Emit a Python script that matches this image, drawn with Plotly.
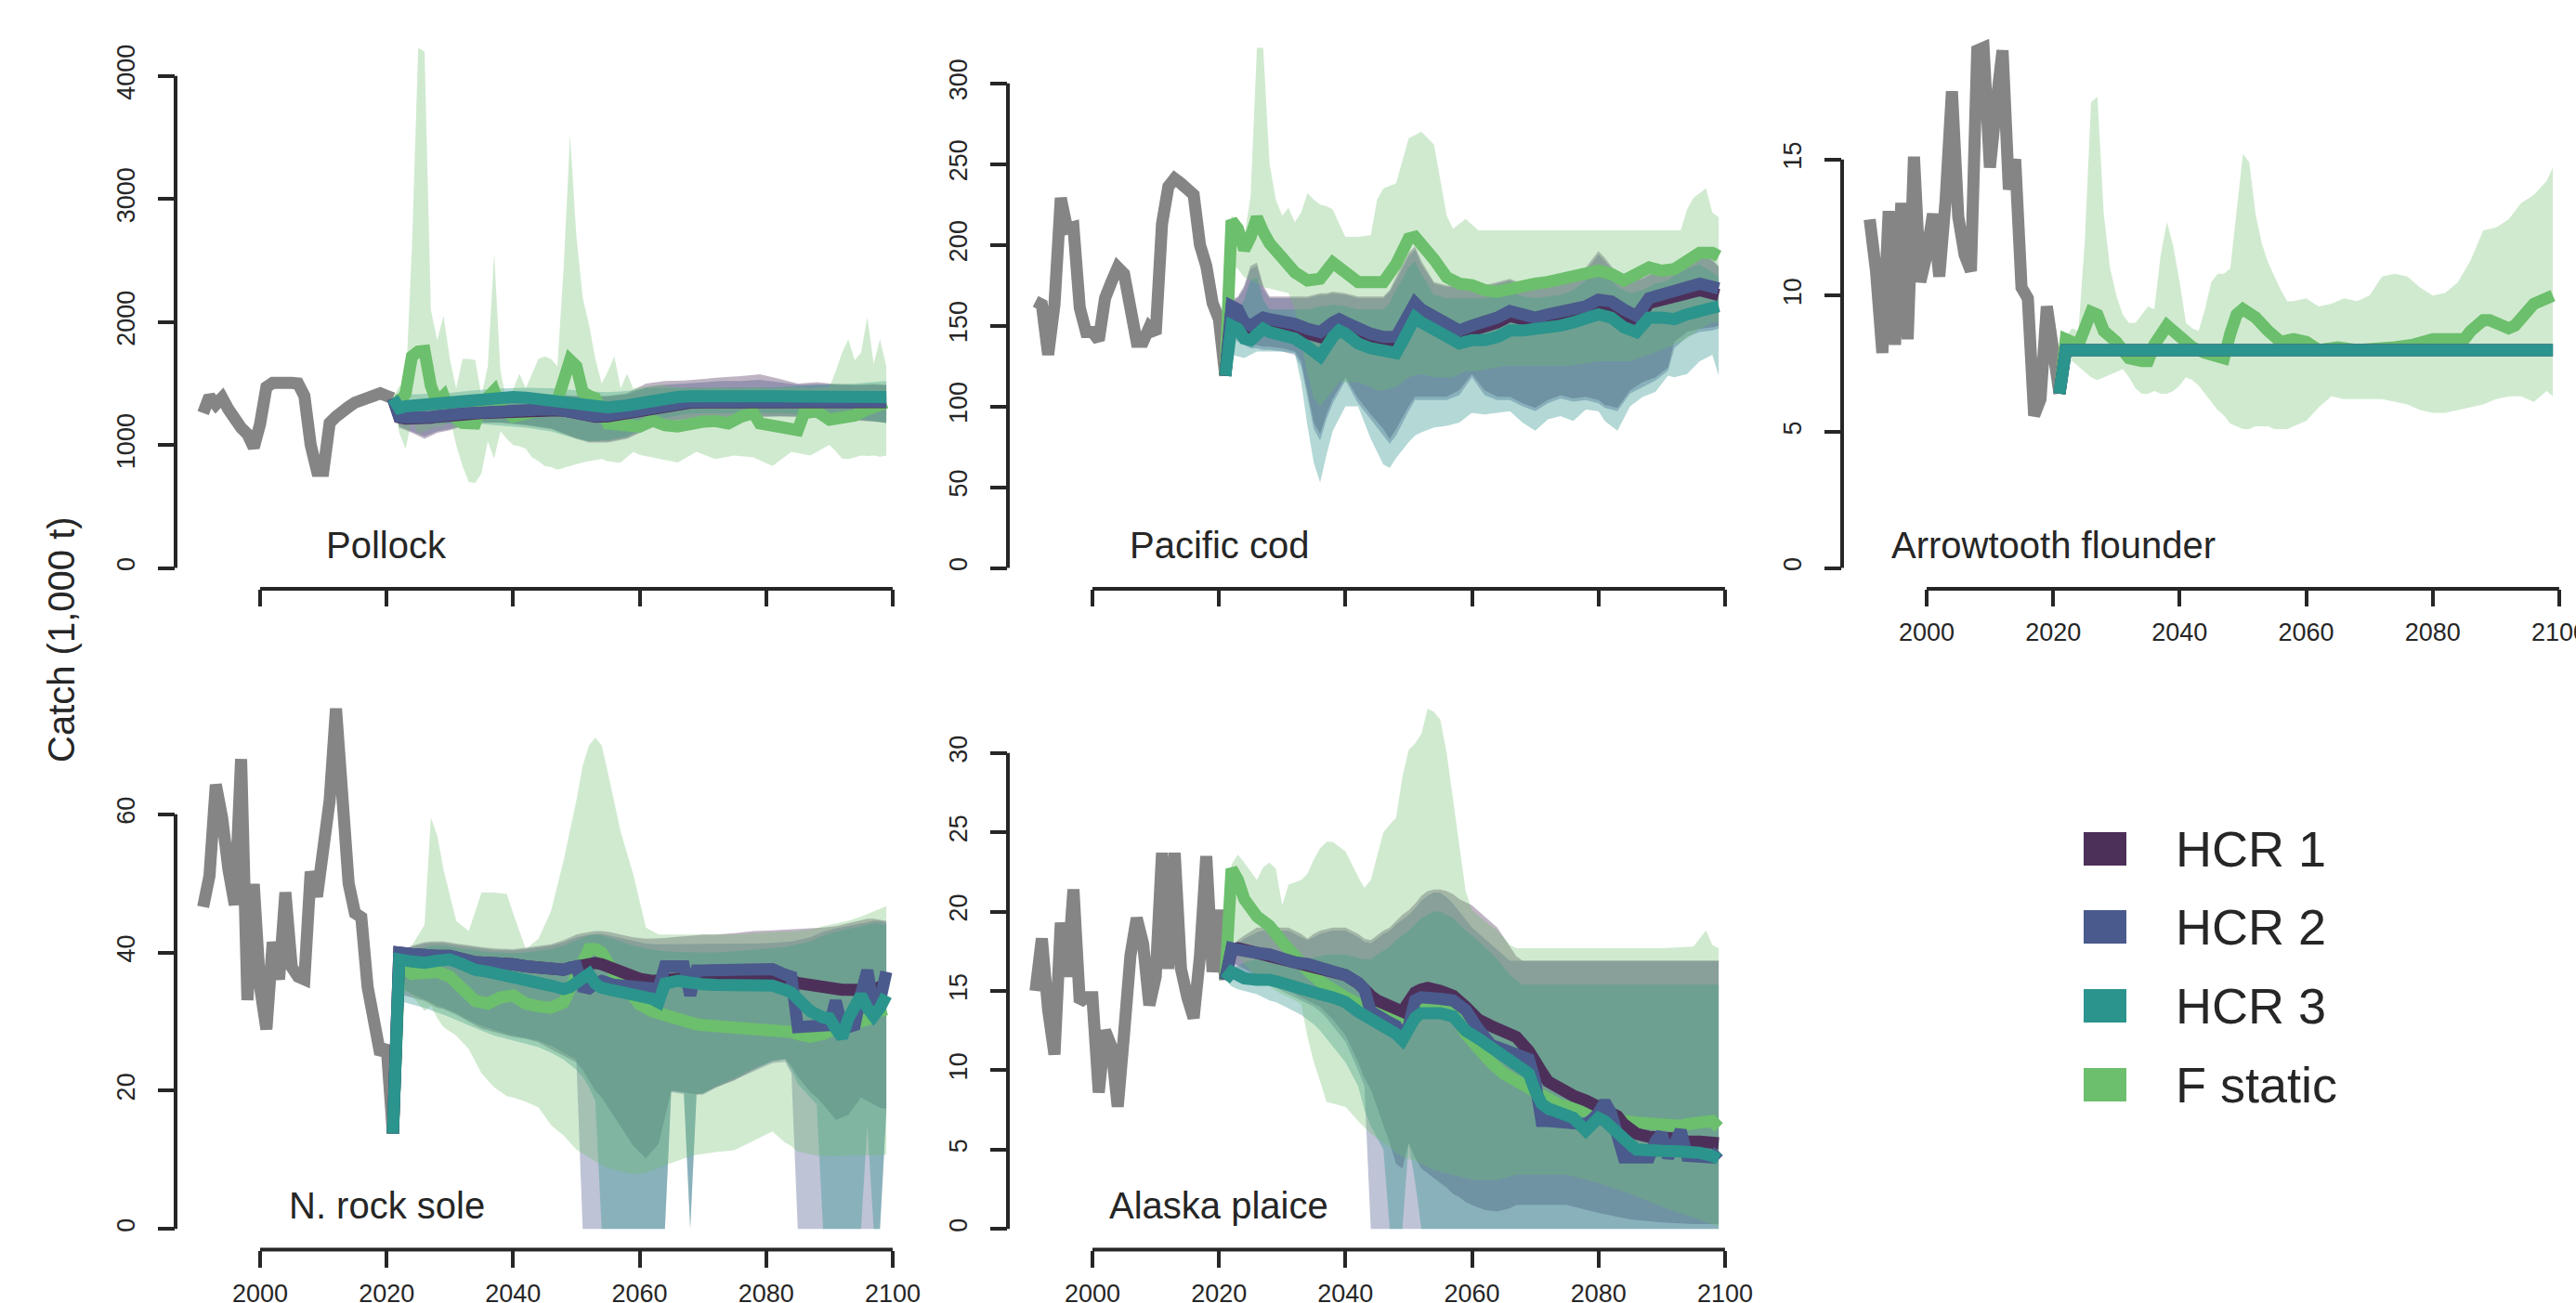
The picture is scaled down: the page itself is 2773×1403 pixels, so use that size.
import plotly.graph_objects as go

# ------------------------------------------------------------------ DATA
HIST_YEARS = [1991, 1992, 1993, 1994, 1995, 1996, 1997, 1998, 1999, 2000, 2001, 2002, 2003, 2004, 2005, 2006,
              2007, 2008, 2009, 2010, 2011, 2012, 2013, 2014, 2015, 2016, 2017, 2018, 2019, 2020, 2021]
X_TICKS = [2000, 2020, 2040, 2060, 2080, 2100]
SCENARIOS = ["HCR 1", "HCR 2", "HCR 3", "F static"]
SCEN_COLORS = ["#4D305A", "#4A5A8C", "#2B948C", "#6CBF6C"]
HIST_COLOR = "#858585"

# ---- Pollock
PK_YTICKS = [0, 1000, 2000, 3000, 4000]
PK_HIST = [1260, 1395, 1330, 1385, 1290, 1200, 1140, 1090, 980, 1170, 1470, 1505, 1510, 1510, 1505, 1500,
           1400, 1000, 790, 790, 1180, 1230, 1280, 1310, 1345, 1360, 1375, 1390, 1420, 1400, 1380]
PK_LINE_YEARS = [2021, 2022, 2023, 2024, 2025, 2026, 2027, 2028, 2029, 2030, 2032, 2034, 2035, 2037, 2038, 2040,
                 2042, 2045, 2047, 2048, 2049, 2050, 2051, 2052, 2053, 2055, 2058, 2060, 2062, 2064, 2066, 2068,
                 2070, 2072, 2074, 2076, 2078, 2079, 2081, 2083, 2085, 2086, 2088, 2090, 2092, 2094, 2096, 2098, 2099]
PK_HCR1 = [1380, 1225, 1215, 1212, 1212, 1215, 1222, 1230, 1238, 1244, 1250, 1256, 1260, 1266, 1272, 1284,
           1286, 1284, 1282, 1279, 1270, 1256, 1244, 1234, 1229, 1234, 1259, 1284, 1312, 1329, 1339, 1344,
           1346, 1346, 1347, 1347, 1347, 1347, 1347, 1347, 1347, 1347, 1347, 1348, 1348, 1349, 1349, 1349, 1349]
PK_HCR2 = [1380, 1230, 1222, 1218, 1218, 1220, 1228, 1236, 1245, 1250, 1256, 1262, 1266, 1272, 1278, 1290,
           1292, 1290, 1288, 1285, 1275, 1262, 1250, 1240, 1235, 1240, 1265, 1290, 1318, 1335, 1345, 1350,
           1352, 1352, 1353, 1353, 1353, 1353, 1353, 1353, 1353, 1353, 1353, 1354, 1354, 1355, 1355, 1355, 1355]
PK_HCR3 = [1380, 1300, 1315, 1320, 1318, 1318, 1322, 1326, 1333, 1340, 1355, 1372, 1378, 1383, 1386, 1390,
           1385, 1365, 1350, 1345, 1335, 1325, 1310, 1305, 1302, 1305, 1322, 1345, 1368, 1382, 1390, 1395,
           1398, 1400, 1400, 1400, 1400, 1400, 1398, 1396, 1394, 1393, 1392, 1390, 1390, 1390, 1390, 1390, 1390]
PK_FSTATIC = [1380, 1340, 1420, 1720, 1760, 1765, 1480, 1350, 1400, 1260, 1180, 1175, 1330, 1440, 1300, 1230,
              1255, 1290, 1360, 1500, 1690, 1640, 1430, 1400, 1380, 1175, 1170, 1150, 1200, 1160, 1150, 1175,
              1190, 1195, 1175, 1230, 1260, 1175, 1160, 1140, 1120, 1260, 1275, 1205, 1215, 1240, 1290, 1320, 1345]
PK_FS_BAND_YEARS = [2021, 2022, 2023, 2024, 2025, 2026, 2027, 2028, 2029, 2030, 2031, 2032, 2033, 2034, 2035,
                    2036, 2037, 2038, 2039, 2040, 2041, 2042, 2043, 2044, 2045, 2046, 2047, 2048, 2049, 2050,
                    2051, 2052, 2053, 2054, 2055, 2056, 2057, 2058, 2059, 2060, 2063, 2066, 2069, 2072, 2075,
                    2078, 2081, 2084, 2087, 2090, 2091, 2092, 2093, 2094, 2095, 2096, 2097, 2098, 2099]
PK_FS_HI = [1380, 1480, 1450, 2600, 4230, 4200, 2100, 1850, 2050, 1700, 1460, 1700, 1700, 1690, 1400,
            1640, 2560, 1600, 1350, 1450, 1580, 1460, 1580, 1700, 1720, 1700, 1640, 2450, 3520, 2700,
            2200, 1980, 1700, 1500, 1600, 1720, 1460, 1580, 1460, 1470, 1490, 1470, 1460, 1470, 1460,
            1470, 1460, 1470, 1460, 1470, 1600, 1750, 1860, 1690, 1750, 2040, 1660, 1860, 1640]
PK_FS_LO = [1380, 1100, 970, 1200, 1090, 1110, 1130, 1150, 1145, 1230, 1000, 830, 700, 690, 770,
            1030, 890, 1110, 1050, 1000, 990, 970, 900, 870, 830, 820, 800, 815, 830, 845,
            857, 870, 880, 886, 870, 860, 857, 900, 944, 920, 890, 857, 944, 886, 915,
            900, 829, 944, 915, 1001, 950, 890, 886, 900, 915, 910, 915, 905, 915]
PK_BAND_YEARS = [2021, 2022, 2024, 2026, 2028, 2030, 2034, 2038, 2042, 2046, 2050, 2052, 2055, 2058,
                 2061, 2064, 2067, 2070, 2073, 2076, 2079, 2082, 2085, 2088, 2091, 2094, 2097, 2099]
PK_HCR1_HI = [1380, 1330, 1320, 1330, 1345, 1360, 1390, 1410, 1415, 1410, 1400, 1395, 1400, 1420,
              1500, 1520, 1525, 1540, 1550, 1560, 1575, 1540, 1500, 1510, 1495, 1490, 1495, 1490]
PK_HCR1_LO = [1380, 1140, 1100, 1050, 1100, 1120, 1180, 1180, 1160, 1130, 1050, 1020, 1020, 1050,
              1120, 1180, 1200, 1205, 1210, 1220, 1230, 1232, 1230, 1220, 1210, 1200, 1190, 1180]
PK_HCR2_HI = [1380, 1320, 1310, 1325, 1340, 1355, 1385, 1405, 1410, 1405, 1395, 1390, 1395, 1410,
              1470, 1490, 1500, 1510, 1520, 1520, 1530, 1510, 1490, 1495, 1490, 1485, 1490, 1485]
PK_HCR2_LO = [1380, 1150, 1110, 1070, 1110, 1130, 1185, 1185, 1165, 1135, 1060, 1030, 1030, 1060,
              1130, 1190, 1210, 1215, 1220, 1225, 1232, 1235, 1232, 1225, 1215, 1205, 1195, 1185]
PK_HCR3_HI = [1380, 1400, 1410, 1415, 1420, 1425, 1445, 1460, 1465, 1462, 1445, 1435, 1430, 1440,
              1460, 1465, 1465, 1465, 1465, 1465, 1465, 1470, 1480, 1490, 1495, 1500, 1515, 1520]
PK_HCR3_LO = [1380, 1180, 1170, 1170, 1175, 1175, 1175, 1160, 1140, 1110, 1050, 1030, 1040, 1070,
              1150, 1220, 1250, 1260, 1260, 1260, 1260, 1258, 1250, 1240, 1230, 1215, 1195, 1175]

# ---- Pacific cod
CD_YTICKS = [0, 50, 100, 150, 200, 250, 300]
CD_HIST = [165, 163, 132, 163, 229, 210, 211, 161, 146, 146, 141, 167, 177, 186, 182, 161,
           140, 140, 149, 145, 213, 236, 241, 238, 233, 231, 200, 187, 164, 154, 119]
CD_LINE_YEARS = [2021, 2022, 2023, 2024, 2025, 2026, 2027, 2028, 2030, 2032, 2034, 2036, 2038, 2039, 2040,
                 2042, 2044, 2046, 2048, 2049, 2050, 2051, 2052, 2054, 2056, 2058, 2060, 2062, 2064, 2066,
                 2068, 2070, 2072, 2074, 2076, 2078, 2080, 2082, 2084, 2086, 2088, 2090, 2092, 2094, 2096,
                 2098, 2099]
CD_HCR1 = [119, 160, 158, 150, 148, 151, 153, 152, 150, 148, 145, 143, 149, 151, 149, 145, 142, 140, 140, 147,
           155, 161, 157, 152, 147, 144, 147, 149, 152, 156, 153, 152, 154, 156, 157, 159, 163, 162, 157, 153,
           164, 166, 168, 170, 172, 170, 169]
CD_HCR2 = [119, 162, 160, 152, 150, 153, 155, 154, 153, 151, 148, 146, 152, 154, 152, 148, 145, 143, 143, 150,
           158, 164, 160, 155, 150, 147, 150, 152, 155, 159, 156, 155, 157, 159, 160, 162, 166, 165, 160, 156,
           167, 169, 171, 173, 176, 174, 173]
CD_HCR3 = [119, 150, 148, 142, 141, 145, 148, 146, 143, 142, 137, 131, 143, 147, 145, 139, 136, 134, 133, 140,
           150, 155, 152, 148, 143, 139, 141, 141, 143, 147, 147, 148, 148, 150, 152, 154, 157, 155, 149, 146,
           155, 155, 154, 157, 160, 161, 162]
CD_FSTATIC = [119, 215, 210, 197, 205, 217, 208, 201, 192, 183, 178, 179, 189, 186, 181, 177, 177, 177, 188, 197,
              204, 205, 201, 191, 180, 176, 175, 172, 171, 173, 174, 176, 177, 179, 181, 183, 184, 182, 178, 182,
              186, 184, 185, 190, 195, 195, 193]
CD_FS_BAND_YEARS = [2021, 2022, 2023, 2024, 2025, 2026, 2027, 2028, 2029, 2030, 2031, 2032, 2033, 2034, 2035,
                    2036, 2037, 2038, 2039, 2040, 2042, 2044, 2045, 2046, 2048, 2050, 2052, 2054, 2055, 2056,
                    2057, 2058, 2059, 2061, 2065, 2070, 2075, 2080, 2085, 2090, 2093, 2094, 2095, 2096, 2097,
                    2098, 2099]
CD_FS_HI = [119, 218, 215, 205, 230, 322, 322, 250, 228, 218, 223, 214, 220, 232, 228, 225, 224, 222, 213, 205,
            205, 206, 228, 235, 238, 266, 270, 262, 240, 218, 210, 213, 216, 209, 209, 209, 209, 209, 209, 209,
            209, 222, 229, 232, 235, 220, 217]
CD_FS_LO = [119, 188, 185, 180, 178, 176, 174, 173, 172, 171, 170, 160, 140, 120, 105, 100, 105, 110, 115, 115,
            115, 112, 110, 110, 112, 118, 120, 118, 118, 118, 118, 120, 122, 122, 125, 125, 125, 128, 128, 135,
            140, 142, 145, 148, 150, 152, 152]
CD_BAND_YEARS = [2021, 2022, 2023, 2024, 2025, 2026, 2027, 2028, 2030, 2032, 2033, 2034, 2035, 2036, 2037, 2038,
                 2040, 2042, 2044, 2046, 2047, 2048, 2050, 2051, 2052, 2054, 2056, 2058, 2060, 2062, 2064, 2066,
                 2068, 2070, 2072, 2074, 2076, 2078, 2080, 2081, 2083, 2085, 2087, 2089, 2091, 2092, 2094, 2096,
                 2098, 2099]
CD_HCR1_HI = [119, 166, 168, 175, 187, 189, 175, 168, 168, 168, 168, 168, 169, 170, 170, 171, 170, 168, 168, 168,
              172, 180, 195, 199, 190, 177, 175, 175, 175, 175, 177, 179, 176, 175, 176, 177, 180, 186, 196, 192,
              182, 178, 180, 184, 186, 189, 193, 196, 191, 187]
CD_HCR1_LO = [119, 145, 142, 140, 138, 138, 137, 137, 136, 134, 128, 110, 90, 83, 95, 105, 118, 105, 95, 86,
              80, 86, 100, 106, 106, 106, 106, 110, 120, 110, 106, 106, 102, 99, 104, 107, 105, 106, 104, 101,
              99, 110, 115, 118, 124, 140, 146, 148, 149, 150]
CD_HCR2_HI = [119, 165, 167, 173, 185, 187, 173, 167, 167, 167, 167, 167, 168, 169, 169, 170, 169, 167, 167, 167,
              171, 178, 193, 197, 188, 176, 174, 174, 174, 174, 176, 178, 175, 174, 175, 176, 179, 184, 194, 190,
              181, 177, 179, 183, 185, 188, 192, 195, 190, 186]
CD_HCR2_LO = [119, 143, 140, 138, 136, 136, 135, 135, 134, 132, 125, 105, 86, 79, 92, 102, 116, 102, 92, 82,
              77, 82, 97, 104, 104, 104, 104, 107, 118, 107, 104, 104, 100, 97, 102, 105, 103, 104, 102, 99,
              97, 108, 112, 116, 122, 136, 143, 146, 147, 148]
CD_HCR3_HI = [119, 158, 160, 166, 178, 180, 166, 160, 160, 160, 160, 160, 161, 162, 162, 163, 162, 160, 160, 160,
              164, 172, 186, 190, 182, 169, 167, 167, 167, 167, 169, 171, 168, 167, 168, 169, 172, 178, 188, 184,
              174, 170, 172, 176, 178, 181, 185, 188, 183, 180]
CD_HCR3_LO = [119, 132, 131, 130, 132, 134, 134, 134, 134, 133, 115, 88, 65, 53, 70, 85, 100, 100, 80, 64,
              62, 68, 78, 82, 84, 87, 88, 90, 96, 95, 96, 97, 90, 85, 92, 94, 91, 98, 97, 91,
              85, 100, 106, 109, 119, 118, 120, 128, 132, 119]

# ---- Arrowtooth flounder
AT_YTICKS = [0, 5, 10, 15]
AT_HIST = [12.8, 10.9, 7.9, 13.1, 8.2, 13.4, 8.4, 15.1, 10.5, 11.5, 13.0, 10.7, 13.5, 17.5, 12.9, 11.5,
           10.9, 19.0, 19.1, 14.7, 17.0, 19.0, 13.9, 15.0, 10.3, 9.9, 5.6, 6.2, 9.6, 8.2, 6.4]
AT_HCR_YEARS = [2021, 2022, 2030, 2040, 2050, 2060, 2070, 2080, 2090, 2099]
AT_HCR1 = [6.4, 8.0, 8.0, 8.0, 8.0, 8.0, 8.0, 8.0, 8.0, 8.0]
AT_HCR2 = [6.4, 8.0, 8.0, 8.0, 8.0, 8.0, 8.0, 8.0, 8.0, 8.0]
AT_HCR3 = [6.4, 8.0, 8.0, 8.0, 8.0, 8.0, 8.0, 8.0, 8.0, 8.0]
AT_FS_YEARS = [2021, 2022, 2023, 2024, 2025, 2026, 2027, 2028, 2030, 2032, 2034, 2035, 2036, 2037, 2038, 2039,
               2040, 2042, 2044, 2046, 2047, 2048, 2049, 2050, 2051, 2052, 2054, 2056, 2058, 2060, 2062, 2065,
               2068, 2071, 2074, 2077, 2080, 2083, 2085, 2086, 2087, 2088, 2089, 2090, 2091, 2092, 2093, 2094,
               2095, 2096, 2097, 2098, 2099]
AT_FSTATIC = [6.4, 8.4, 8.3, 8.2, 8.8, 9.4, 9.3, 8.7, 8.3, 7.7, 7.6, 7.6, 8.2, 8.6, 8.9, 8.7,
              8.5, 8.1, 7.9, 7.8, 7.7, 8.6, 9.3, 9.5, 9.4, 9.2, 8.7, 8.3, 8.4, 8.3, 8.0, 8.1,
              8.0, 8.0, 8.1, 8.2, 8.4, 8.4, 8.4, 8.7, 8.9, 9.1, 9.1, 9.0, 8.9, 8.8, 8.9, 9.2,
              9.5, 9.7, 9.8, 9.9, 10.0]
AT_FS_BAND_YEARS = [2021, 2022, 2023, 2024, 2025, 2026, 2027, 2028, 2029, 2030, 2031, 2032, 2033, 2034, 2035,
                    2036, 2037, 2038, 2039, 2040, 2041, 2042, 2043, 2044, 2045, 2046, 2047, 2048, 2049, 2050,
                    2051, 2052, 2053, 2054, 2055, 2056, 2057, 2058, 2060, 2062, 2064, 2066, 2068, 2070, 2072,
                    2074, 2076, 2078, 2080, 2082, 2084, 2086, 2088, 2090, 2092, 2094, 2096, 2098, 2099]
AT_FS_HI = [6.4, 8.5, 8.8, 8.7, 12.0, 17.1, 17.3, 13.0, 11.0, 10.0, 9.3, 9.0, 9.0, 9.3, 9.6,
            9.5, 11.5, 12.7, 11.8, 10.5, 9.0, 8.8, 8.7, 9.5, 10.5, 10.8, 10.8, 11.0, 13.0, 15.2,
            14.9, 13.0, 11.9, 11.2, 10.7, 10.2, 9.8, 9.8, 9.9, 9.6, 9.7, 9.9, 9.8, 10.0, 10.7,
            10.8, 10.7, 10.3, 10.0, 10.1, 10.5, 11.3, 12.4, 12.5, 12.8, 13.4, 13.7, 14.2, 14.7]
AT_FS_LO = [6.4, 7.5, 7.6, 7.4, 7.2, 7.0, 6.9, 7.0, 7.1, 7.2, 7.3, 7.0, 6.6, 6.4, 6.4,
            6.5, 6.4, 6.4, 6.5, 6.7, 7.0, 6.9, 6.7, 6.4, 6.1, 5.8, 5.6, 5.3, 5.2, 5.1,
            5.1, 5.2, 5.2, 5.2, 5.1, 5.1, 5.1, 5.2, 5.4, 5.9, 6.3, 6.2, 6.2, 6.2, 6.2,
            6.1, 6.0, 5.8, 5.7, 5.7, 5.8, 5.9, 6.0, 6.2, 6.3, 6.3, 6.1, 6.5, 6.3]

# ---- N. rock sole
RS_YTICKS = [0, 20, 40, 60]
RS_HIST = [46.6, 51.1, 64.3, 59.5, 52, 46.9, 68, 33.1, 49.9, 35, 28.9, 41.5, 36.1, 48.7, 37.9, 36.5,
           36.1, 51.7, 48.1, 54.7, 62, 75.3, 59.5, 50, 45.7, 45.1, 35, 29.5, 25.3, 26.5, 13.8]
RS_LINE_YEARS = [2021, 2022, 2024, 2026, 2028, 2030, 2032, 2034, 2036, 2038, 2040, 2042, 2044, 2046, 2048,
                 2049, 2050, 2051, 2052, 2053, 2054, 2056, 2058, 2060, 2062, 2063, 2064, 2066, 2067, 2068,
                 2069, 2070, 2072, 2075, 2078, 2081, 2083, 2084, 2085, 2087, 2089, 2090, 2091, 2092, 2093,
                 2094, 2095, 2096, 2097, 2098, 2099]
RS_HCR1 = [13.8, 40, 39.8, 39.5, 39.5, 39.5, 39, 38.6, 38.5, 38.5, 38.3, 38, 37.7, 37.4, 37.5,
           37.8, 38, 38.3, 38.5, 38.5, 38.3, 37.5, 36.7, 36.2, 35.9, 35.9, 36, 36.2, 36.3, 36.4,
           36.5, 36.6, 36.6, 36.6, 36.5, 36.4, 36.2, 36, 35.6, 35.2, 35, 34.8, 34.7, 34.6, 34.6,
           34.5, 34.4, 34.4, 34.6, 35, 35.2]
RS_HCR2 = [13.8, 40, 39.8, 39.5, 39.5, 39.5, 39, 38.6, 38.5, 38.5, 38.3, 38, 37.7, 37.4, 37.5,
           37.8, 38, 35, 34.8, 35.5, 35.9, 35.3, 35, 34.9, 34.8, 34.8, 38, 38, 38, 33.8,
           37.4, 37.4, 37.4, 37.3, 37.4, 37.6, 36.8, 36.5, 29.2, 29.2, 29.2, 29.5, 33, 29.2, 29.2,
           29.5, 34, 37.4, 32, 33, 37.2]
RS_HCR3 = [13.8, 39, 38.7, 38.5, 38.8, 39, 38.3, 37.5, 37.2, 36.9, 36.5, 36, 35.6, 35.2, 34.7,
           35, 35.6, 36.5, 36.9, 35.5, 34.9, 34.5, 34.2, 33.8, 33.3, 32.8, 35.5, 35.9, 35.7, 35.5,
           35.4, 35.4, 35.3, 35.2, 35.4, 35.2, 34.6, 34.2, 33.3, 31.5, 30.6, 30.5, 29, 27.7, 30.5,
           32.5, 33.8, 32, 30.8, 32, 33.8]
RS_FSTATIC = [13.8, 38, 36.9, 36.9, 37.2, 36.5, 34.5, 33, 32.6, 33.5, 33.8, 32.6, 32.2, 32, 32.8,
              35, 37, 39, 40.5, 40.5, 40, 37, 34.5, 32.5, 31.5, 31.2, 30.8, 30.2, 30, 29.8,
              29.6, 29.5, 29.4, 29.3, 29.2, 29, 28.7, 28.5, 28.2, 27.8, 28.2, 28.7, 29, 29.2, 29.5,
              29.6, 29.7, 30.3, 31.3, 31.5, 31.8]
RS_BAND_YEARS = [2021, 2022, 2024, 2026, 2027, 2028, 2029, 2031, 2033, 2035, 2037, 2039, 2040, 2042, 2044,
                 2046, 2048, 2050, 2051, 2052, 2053, 2054, 2055, 2057, 2059, 2061, 2063, 2064, 2065, 2067,
                 2068, 2069, 2070, 2072, 2075, 2078, 2081, 2083, 2084, 2085, 2087, 2088, 2089, 2091, 2093,
                 2095, 2096, 2097, 2098, 2099]
RS_FS_HI = [13.8, 39, 41, 44, 59.5, 57, 52, 44.6, 43.1, 48.7, 48.7, 48.5, 45.7, 40.5, 42,
            46, 53.4, 62, 67, 70, 71.1, 70, 66, 57.5, 51.3, 43.6, 42.6, 42.6, 42.6, 42.6,
            42.6, 42.6, 42.6, 42.6, 42.6, 42.8, 43, 43.1, 43.1, 43.1, 43.3, 43.5, 43.8, 44.2, 44.6,
            45.2, 45.6, 46, 46.4, 46.7]
RS_FS_LO = [13.8, 35, 33.8, 31.5, 32.3, 30.5, 29.2, 28, 26, 22.5, 20.5, 19.2, 19, 18.4, 17.6,
            15, 13.5, 11.5, 11, 10.3, 9.8, 9.2, 8.8, 8.3, 7.9, 8.1, 8.8, 9.2, 9.5, 10.2,
            10.5, 10.7, 10.9, 11.1, 11.4, 12.8, 14.1, 12.5, 12, 11.2, 10.8, 10.6, 10.5, 10.5, 10.6,
            10.6, 10.7, 10.7, 10.7, 10.7]
RS_HCR1_HI = [13.8, 40, 41, 41.5, 41.6, 41.6, 41.6, 41.3, 41, 40.8, 40.6, 40.5, 40.5, 40.7, 40.9,
              41.2, 41.8, 42.6, 42.8, 43, 43.1, 43.1, 43, 42.6, 42.2, 42, 42, 42.1, 42.2, 42.3,
              42.4, 42.5, 42.6, 42.6, 42.8, 43.1, 43.2, 43.3, 43.3, 43.4, 43.5, 43.6, 43.6, 43.8, 44.2,
              44.6, 44.9, 44.9, 44.7, 44.6]
RS_HCR1_LO = [13.8, 34, 33.5, 33, 32.5, 32, 31.8, 31, 30, 29, 28.5, 28, 27.8, 27.5, 27,
              26, 25, 24.1, 23, 21.5, 20, 19, 17.5, 14.8, 12, 10.2, 12.3, 16, 20, 19.8,
              19.6, 19.5, 19.6, 20.5, 21.5, 23, 24.3, 24.6, 23.5, 22, 19.8, 19, 18, 15.8, 16.5,
              19, 18.5, 18, 17.5, 17.4]
RS_HCR2_HI = [13.8, 40, 40.8, 41.3, 41.4, 41.4, 41.4, 41.1, 40.8, 40.6, 40.4, 40.3, 40.3, 40.5, 40.7,
              41, 41.5, 42.2, 42.4, 42.6, 42.7, 42.7, 42.5, 42, 41.6, 41.3, 41.2, 41.2, 41.3, 41.3,
              41.3, 41.3, 41.3, 41.2, 41.2, 41.3, 41.4, 41.5, 41.6, 41.8, 42.2, 42.6, 43, 43.5, 43.8,
              44.2, 44.4, 44.6, 44.6, 44.4]
RS_HCR2_LO = [13.8, 35, 34, 33.2, 32.8, 32.3, 32, 31.2, 30.2, 29.4, 28.8, 28.2, 28, 27.6, 27.2,
              26.5, 25.5, 24.5, 0, 0, 0, 0, 0, 0, 0, 0, 0, 0, 19.8, 19.5,
              0, 19.4, 19.4, 20.4, 21.5, 22.8, 24, 24.2, 22.5, 0, 0, 0, 0, 0, 0,
              0, 0, 0, 0, 17]
RS_HCR3_HI = [13.8, 39.5, 40.2, 40.8, 41, 41, 41, 40.7, 40.4, 40.2, 40, 39.9, 39.9, 40, 40.2,
              40.5, 41, 41.8, 42.2, 42.5, 42.6, 42.5, 42.2, 41.6, 41, 40.6, 40.3, 40.2, 40.1, 40,
              40, 40, 40, 40, 40.2, 40.4, 40.6, 40.8, 41, 41.2, 41.6, 42, 42.4, 43, 43.4,
              43.8, 44, 44.2, 44.2, 44]
RS_HCR3_LO = [13.8, 33, 32.5, 32, 31.7, 31.3, 31, 30.3, 29.5, 28.7, 28, 27.5, 27.2, 26.8, 26.3,
              25.5, 24.5, 23, 22, 20.5, 18.5, 0, 0, 0, 0, 0, 0, 0, 20, 19.7,
              0, 19.5, 19.6, 20.6, 21.8, 23.2, 24.3, 24.6, 23, 21, 19, 18, 0, 0, 0,
              0, 15, 0, 0, 17]

# ---- Alaska plaice
PL_YTICKS = [0, 5, 10, 15, 20, 25, 30]
PL_HIST = [15, 18.3, 13.8, 11, 19.3, 15.9, 21.4, 14.3, 14.6, 14.6, 8.6, 12.5, 11.5, 7.7, 12.3, 17.2,
           19.6, 18, 14.1, 15.9, 23.7, 16.4, 23.7, 16.4, 14.6, 13.3, 17.2, 23.5, 16.2, 20.1, 15.7]
PL_LINE_YEARS = [2021, 2022, 2023, 2024, 2026, 2028, 2030, 2032, 2034, 2036, 2038, 2040, 2042, 2043, 2044,
                 2045, 2047, 2048, 2049, 2050, 2051, 2052, 2053, 2055, 2057, 2059, 2061, 2063, 2065, 2067,
                 2069, 2070, 2071, 2072, 2074, 2076, 2078, 2079, 2080, 2081, 2082, 2083, 2084, 2086, 2088,
                 2089, 2090, 2091, 2092, 2093, 2094, 2096, 2098, 2099]
PL_HCR1 = [15.7, 17.6, 17.7, 17.6, 17.4, 17.3, 17.0, 16.8, 16.7, 16.5, 16.3, 16.0, 15.5, 15.0, 14.7,
           14.4, 14.0, 13.8, 13.7, 14.3, 14.9, 15.1, 15.2, 15.0, 14.7, 14.0, 13.2, 12.8, 12.5, 12.1,
           11.2, 10.7, 9.9, 9.3, 8.8, 8.4, 8.1, 7.9, 7.8, 7.7, 7.5, 7.1, 6.6, 6.0, 5.8,
           5.8, 5.7, 5.7, 5.7, 5.6, 5.5, 5.5, 5.4, 5.4]
PL_HCR2 = [15.7, 17.7, 17.6, 17.5, 17.4, 17.3, 17.0, 16.8, 16.7, 16.5, 16.3, 16.0, 15.5, 15.1, 13.7,
           13.4, 13.0, 12.8, 12.1, 12.8, 14.4, 14.6, 14.6, 14.5, 14.4, 13.8, 12.6, 11.6, 11.3, 11.0,
           10.7, 9.3, 6.8, 6.8, 6.7, 6.6, 6.6, 6.9, 7.3, 8.0, 7.3, 5.9, 4.5, 4.5, 4.5,
           5.5, 6.0, 4.5, 5.5, 6.2, 4.6, 4.5, 4.5, 4.9]
PL_HCR3 = [15.7, 16.2, 16.0, 15.8, 15.7, 15.7, 15.5, 15.2, 15.0, 14.8, 14.6, 14.3, 13.7, 13.5, 13.3,
           13.1, 12.6, 12.3, 11.9, 12.6, 13.3, 13.6, 13.6, 13.6, 13.4, 12.5, 12.0, 11.5, 11.0, 10.5,
           9.8, 8.7, 7.9, 7.6, 7.3, 7.0, 6.2, 6.6, 7.0, 6.8, 6.5, 6.0, 5.7, 5.0, 4.9,
           4.9, 4.9, 4.9, 4.9, 4.9, 4.9, 4.8, 4.6, 4.4]
PL_FSTATIC = [15.7, 22.7, 22.0, 20.8, 19.7, 19.1, 18.1, 17.1, 16.3, 15.6, 15.0, 14.6, 14.2, 14.0, 13.8,
              13.6, 13.4, 13.3, 13.3, 13.6, 13.8, 13.9, 14.0, 14.2, 13.8, 12.3, 11.3, 10.5, 9.8, 9.3,
              8.9, 8.7, 8.4, 8.2, 7.8, 7.5, 7.4, 7.3, 7.3, 7.2, 7.0, 6.8, 6.8, 6.7, 6.6,
              6.6, 6.6, 6.5, 6.5, 6.5, 6.6, 6.7, 6.8, 6.4]
PL_BAND_YEARS = [2021, 2022, 2023, 2024, 2026, 2027, 2028, 2029, 2030, 2031, 2033, 2034, 2035, 2036, 2037,
                 2038, 2040, 2042, 2043, 2044, 2046, 2047, 2048, 2049, 2050, 2051, 2052, 2053, 2054, 2055,
                 2056, 2057, 2058, 2059, 2060, 2062, 2064, 2066, 2067, 2068, 2070, 2075, 2080, 2085, 2090,
                 2095, 2096, 2097, 2098, 2099]
PL_FS_HI = [15.7, 23.0, 23.6, 23.1, 22.0, 22.8, 23.1, 22.7, 20.4, 21.7, 22.0, 22.4, 23.3, 24.0, 24.4,
            24.4, 23.8, 22.2, 21.5, 22.0, 25.0, 25.5, 25.9, 28.5, 30.2, 30.6, 31.2, 32.8, 32.6, 32.1,
            30.0, 27.0, 24.0, 21.3, 20.1, 19.4, 18.8, 17.9, 17.7, 17.7, 17.7, 17.7, 17.7, 17.7, 17.7,
            17.8, 18.3, 18.8, 17.9, 17.7]
PL_FS_LO = [15.7, 17.8, 17.2, 16.7, 15.9, 15.6, 15.3, 15.0, 14.8, 14.6, 14.2, 12.1, 10.5, 9.3, 8.0,
            7.9, 7.7, 6.8, 6.4, 6.0, 5.4, 5.2, 4.8, 4.6, 4.4, 4.3, 4.1, 3.9, 3.7, 3.6,
            3.5, 3.4, 3.3, 3.2, 3.1, 3.1, 3.1, 3.3, 3.4, 3.4, 3.4, 3.4, 2.9, 2.2, 1.4,
            0.7, 0.6, 0.4, 0.3, 0.15]
PL_HCR1_HI = [15.7, 17.8, 18.2, 18.5, 19.0, 19.0, 19.0, 19.0, 19.0, 19.0, 18.6, 18.3, 18.6, 18.8, 18.9,
              19.0, 19.0, 18.6, 18.3, 18.2, 18.8, 19.0, 19.4, 19.8, 20.1, 20.5, 21.0, 21.3, 21.4, 21.4,
              21.3, 21.1, 20.8, 20.6, 20.4, 19.7, 19.0, 17.8, 17.2, 16.9, 16.9, 16.9, 16.9, 16.9, 16.9,
              16.9, 16.9, 16.9, 16.9, 16.9]
PL_HCR1_LO = [15.7, 16.8, 16.6, 16.4, 16.0, 15.8, 15.6, 15.4, 15.2, 15.0, 14.6, 14.4, 14.2, 14.0, 13.6,
              13.2, 12.2, 10.5, 9.5, 8.8, 6.5, 5.4, 4.1, 3.8, 5.4, 4.5, 3.8, 3.5, 3.2, 2.9,
              2.6, 2.2, 2.0, 1.7, 1.5, 1.2, 1.1, 1.3, 1.5, 1.5, 1.5, 1.5, 1.0, 0.6, 0.4,
              0.3, 0.3, 0.3, 0.3, 0.3]
PL_HCR2_HI = [15.7, 17.7, 18.0, 18.3, 18.7, 18.8, 18.8, 18.8, 18.8, 18.8, 18.4, 18.2, 18.4, 18.6, 18.7,
              18.8, 18.8, 18.4, 18.1, 18.0, 18.6, 18.8, 19.2, 19.5, 19.8, 20.2, 20.7, 21.0, 21.2, 21.2,
              20.9, 20.5, 20.0, 19.5, 19.0, 18.3, 17.6, 16.9, 16.9, 16.9, 16.9, 16.9, 16.9, 16.9, 16.9,
              16.9, 16.9, 16.9, 16.9, 16.9]
PL_HCR2_LO = [15.7, 16.6, 16.4, 16.2, 15.8, 15.6, 15.4, 15.2, 15.0, 14.8, 14.4, 14.2, 14.0, 13.7, 13.3,
              12.8, 11.8, 10.0, 9.0, 0, 0, 0, 0, 0, 0, 0, 0, 0, 0, 0,
              0, 0, 0, 0, 0, 0, 0, 0, 0, 0, 0, 0, 0, 0, 0,
              0, 0, 0, 0, 0]
PL_HCR3_HI = [15.7, 16.3, 16.6, 16.8, 17.0, 17.2, 17.3, 17.4, 17.5, 17.4, 17.1, 17.0, 17.1, 17.2, 17.3,
              17.3, 17.3, 17.1, 17.0, 17.0, 17.5, 17.8, 18.2, 18.5, 18.8, 19.2, 19.6, 19.8, 20.0, 20.0,
              19.8, 19.6, 19.2, 18.8, 18.5, 17.8, 17.0, 16.0, 15.7, 15.4, 15.4, 15.4, 15.4, 15.4, 15.4,
              15.4, 15.4, 15.4, 15.4, 15.4]
PL_HCR3_LO = [15.7, 15.3, 15.1, 15.0, 14.8, 14.6, 14.4, 14.3, 14.1, 13.9, 13.5, 13.2, 12.9, 12.5, 12.0,
              11.5, 10.5, 9.0, 7.5, 6.5, 5.0, 0, 0, 0, 5.4, 3.0, 0, 0, 0, 0,
              0, 0, 0, 0, 0, 0, 0, 0, 0, 0, 0, 0, 0, 0, 0,
              0, 0, 0, 0, 0]

# ------------------------------------------------------------------ PANELS (built from arrays above)
PANELS = [
    dict(label="Pollock", row=0, col=0, yticks=PK_YTICKS, hist=PK_HIST, xlabels=False,
         lines=[(PK_LINE_YEARS, PK_HCR1), (PK_LINE_YEARS, PK_HCR2), (PK_LINE_YEARS, PK_HCR3),
                (PK_LINE_YEARS, PK_FSTATIC)],
         bands=[(PK_BAND_YEARS, PK_HCR1_LO, PK_HCR1_HI), (PK_BAND_YEARS, PK_HCR2_LO, PK_HCR2_HI),
                (PK_BAND_YEARS, PK_HCR3_LO, PK_HCR3_HI), (PK_FS_BAND_YEARS, PK_FS_LO, PK_FS_HI)]),
    dict(label="Pacific cod", row=0, col=1, yticks=CD_YTICKS, hist=CD_HIST, xlabels=False,
         lines=[(CD_LINE_YEARS, CD_HCR1), (CD_LINE_YEARS, CD_HCR2), (CD_LINE_YEARS, CD_HCR3),
                (CD_LINE_YEARS, CD_FSTATIC)],
         bands=[(CD_BAND_YEARS, CD_HCR1_LO, CD_HCR1_HI), (CD_BAND_YEARS, CD_HCR2_LO, CD_HCR2_HI),
                (CD_BAND_YEARS, CD_HCR3_LO, CD_HCR3_HI), (CD_FS_BAND_YEARS, CD_FS_LO, CD_FS_HI)]),
    dict(label="Arrowtooth flounder", row=0, col=2, yticks=AT_YTICKS, hist=AT_HIST, xlabels=True,
         lines=[(AT_HCR_YEARS, AT_HCR1), (AT_HCR_YEARS, AT_HCR2), (AT_HCR_YEARS, AT_HCR3),
                (AT_FS_YEARS, AT_FSTATIC)],
         bands=[None, None, None, (AT_FS_BAND_YEARS, AT_FS_LO, AT_FS_HI)]),
    dict(label="N. rock sole", row=1, col=0, yticks=RS_YTICKS, hist=RS_HIST, xlabels=True,
         lines=[(RS_LINE_YEARS, RS_HCR1), (RS_LINE_YEARS, RS_HCR2), (RS_LINE_YEARS, RS_HCR3),
                (RS_LINE_YEARS, RS_FSTATIC)],
         bands=[(RS_BAND_YEARS, RS_HCR1_LO, RS_HCR1_HI), (RS_BAND_YEARS, RS_HCR2_LO, RS_HCR2_HI),
                (RS_BAND_YEARS, RS_HCR3_LO, RS_HCR3_HI), (RS_BAND_YEARS, RS_FS_LO, RS_FS_HI)]),
    dict(label="Alaska plaice", row=1, col=1, yticks=PL_YTICKS, hist=PL_HIST, xlabels=True,
         lines=[(PL_LINE_YEARS, PL_HCR1), (PL_LINE_YEARS, PL_HCR2), (PL_LINE_YEARS, PL_HCR3),
                (PL_LINE_YEARS, PL_FSTATIC)],
         bands=[(PL_BAND_YEARS, PL_HCR1_LO, PL_HCR1_HI), (PL_BAND_YEARS, PL_HCR2_LO, PL_HCR2_HI),
                (PL_BAND_YEARS, PL_HCR3_LO, PL_HCR3_HI), (PL_BAND_YEARS, PL_FS_LO, PL_FS_HI)]),
]

# sanity check on lengths
for p in PANELS:
    assert len(p["hist"]) == len(HIST_YEARS), p["label"]
    for yrs, vals in p["lines"]:
        assert len(yrs) == len(vals), (p["label"], len(yrs), len(vals))
    for b in p["bands"]:
        if b:
            assert len(b[0]) == len(b[1]) == len(b[2]), (p["label"], len(b[0]), len(b[1]), len(b[2]))

# ------------------------------------------------------------------ LAYOUT CONSTANTS (pixels)
W, H = 2773, 1403
FONT = "Liberation Sans, Arial, Helvetica, sans-serif"
TXT = "#262626"
COL_LEFT = [189, 1085, 1983]
ROW_TOP = [29, 740.6]
PLOT_W, PLOT_H = 801.6, 605
X_LO, X_HI = 1986.64, 2104.36
LINE_W = 13
BAND_ALPHA = [0.36, 0.36, 0.36, 0.32]


def rgba(hex_color, a):
    h = hex_color.lstrip("#")
    return "rgba(%d,%d,%d,%.3f)" % (int(h[0:2], 16), int(h[2:4], 16), int(h[4:6], 16), a)


fig = go.Figure()
layout_axes = {}
shapes = []
annotations = []

for i, p in enumerate(PANELS, start=1):
    xa = "x" if i == 1 else "x%d" % i
    ya = "y" if i == 1 else "y%d" % i
    # bands
    for k, b in enumerate(p["bands"]):
        if b is None:
            continue
        yrs, lo, hi = b
        fig.add_trace(go.Scatter(
            x=list(yrs) + list(yrs)[::-1], y=list(hi) + list(lo)[::-1],
            fill="toself", fillcolor=rgba(SCEN_COLORS[k], BAND_ALPHA[k]),
            line=dict(width=0), mode="lines", hoverinfo="skip", showlegend=False,
            xaxis=xa, yaxis=ya))
    # history
    fig.add_trace(go.Scatter(x=HIST_YEARS, y=p["hist"], mode="lines",
                             line=dict(color=HIST_COLOR, width=LINE_W), hoverinfo="skip",
                             showlegend=False, xaxis=xa, yaxis=ya))
    # projection medians: F static first, then HCR 1..3 on top
    for k in [3, 0, 1, 2]:
        yrs, vals = p["lines"][k]
        fig.add_trace(go.Scatter(x=yrs, y=vals, mode="lines",
                                 line=dict(color=SCEN_COLORS[k], width=LINE_W), hoverinfo="skip",
                                 name=SCENARIOS[k], showlegend=False, xaxis=xa, yaxis=ya))

    # data max for y range (R-style 4% padding)
    vals_all = list(p["hist"])
    for yrs, v in p["lines"]:
        vals_all += list(v)
    for b in p["bands"]:
        if b:
            vals_all += list(b[1]) + list(b[2])
    ymax = max(vals_all)
    yr = [-0.04 * ymax, 1.04 * ymax]

    left = COL_LEFT[p["col"]]
    right = min(left + PLOT_W, W)
    x_hi = X_LO + (right - left) / PLOT_W * (X_HI - X_LO)
    top = ROW_TOP[p["row"]]
    xdom = [left / W, right / W]
    ydom = [1 - (top + PLOT_H) / H, 1 - top / H]

    axis_common = dict(showgrid=False, zeroline=False, showline=False, ticks="outside",
                       ticklen=18, tickwidth=4, tickcolor=TXT,
                       tickfont=dict(family=FONT, size=27, color=TXT), automargin=False,
                       fixedrange=True, ticklabeloverflow="allow")
    layout_axes["xaxis" if i == 1 else "xaxis%d" % i] = dict(
        axis_common, domain=xdom, range=[X_LO, x_hi], anchor=ya,
        tickvals=X_TICKS, ticktext=[str(t) for t in X_TICKS],
        showticklabels=p["xlabels"], ticklabelstandoff=5)
    layout_axes["yaxis" if i == 1 else "yaxis%d" % i] = dict(
        axis_common, domain=ydom, range=yr, anchor=xa,
        tickvals=p["yticks"], ticktext=[str(t) for t in p["yticks"]],
        tickangle=-90, ticklabelstandoff=14)

    # R-style axis lines spanning first..last tick
    shapes.append(dict(type="line", xref=xa, yref=ya + " domain",
                       x0=X_TICKS[0], x1=X_TICKS[-1], y0=0, y1=0,
                       line=dict(color=TXT, width=4)))
    shapes.append(dict(type="line", xref=xa + " domain", yref=ya,
                       x0=0, x1=0, y0=p["yticks"][0], y1=p["yticks"][-1],
                       line=dict(color=TXT, width=4)))
    # panel label
    annotations.append(dict(text=p["label"], xref=xa, yref=ya + " domain", x=2020, y=0.078,
                            xanchor="center", yanchor="middle", showarrow=False,
                            font=dict(family=FONT, size=40, color=TXT)))

# y title
annotations.append(dict(text="Catch (1,000 t)", xref="paper", yref="paper", x=66 / W, y=1 - 689 / H,
                        xanchor="center", yanchor="middle", textangle=-90, showarrow=False,
                        font=dict(family=FONT, size=40, color=TXT)))

# legend (manual, R-style filled squares)
LEG_X0, LEG_X1, LEG_TXT_X = 2243, 2289, 2340
LEG_ROWS = [914, 998, 1083, 1168]
for k, name in enumerate(SCENARIOS):
    cy = LEG_ROWS[k]
    shapes.append(dict(type="rect", xref="paper", yref="paper",
                       x0=LEG_X0 / W, x1=LEG_X1 / W, y0=1 - (cy + 18) / H, y1=1 - (cy - 18) / H,
                       fillcolor=SCEN_COLORS[k], line=dict(width=0)))
    annotations.append(dict(text=name, xref="paper", yref="paper", x=LEG_TXT_X / W, y=1 - cy / H,
                            xanchor="left", yanchor="middle", showarrow=False,
                            font=dict(family=FONT, size=54, color=TXT)))

fig.update_layout(
    width=W, height=H, margin=dict(l=0, r=0, t=0, b=0, pad=0),
    paper_bgcolor="white", plot_bgcolor="white", template="none",
    showlegend=False, hovermode=False, shapes=shapes, annotations=annotations,
    **layout_axes)

fig.write_html("out.html", include_plotlyjs=True, config={"displayModeBar": False, "staticPlot": True},
               post_script="document.body.style.margin='0';document.body.style.overflow='hidden';")
